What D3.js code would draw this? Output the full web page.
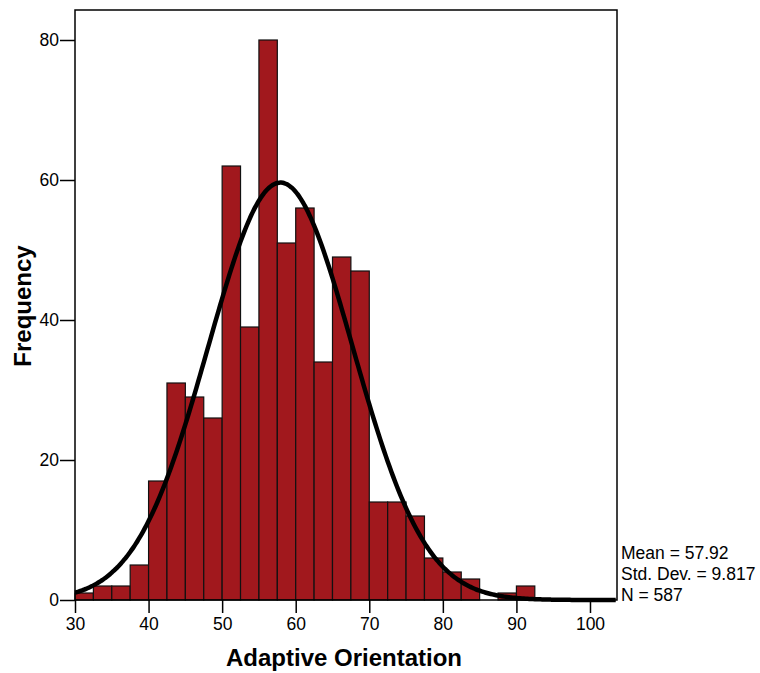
<!DOCTYPE html>
<html>
<head>
<meta charset="utf-8">
<script src="https://cdn.jsdelivr.net/npm/d3@7"></script>
<style>
  html, body { margin: 0; padding: 0; background: #fff; }
  svg { display: block; }
  text { font-family: "Liberation Sans", Arial, sans-serif; fill: #000; }
</style>
</head>
<body>
<svg id="chart" width="760" height="673"></svg>
<script>
// ---- data ----
const binStarts = [30, 32.5, 35, 37.5, 40, 42.5, 45, 47.5, 50, 52.5, 55, 57.5, 60, 62.5, 65, 67.5, 70, 72.5, 75, 77.5, 80, 82.5, 85, 87.5, 90];
const binWidth = 2.5;
const frequencies = [1, 2, 2, 5, 17, 31, 29, 26, 62, 39, 80, 51, 56, 34, 49, 47, 14, 14, 12, 6, 4, 3, 0, 1, 2];
const xTicks = [30, 40, 50, 60, 70, 80, 90, 100];
const yTicks = [0, 20, 40, 60, 80];
const statsLabels = ["Mean = 57.92", "Std. Dev. = 9.817", "N = 587"];
const mean = 57.92, sd = 9.817, n = 587;

// ---- layout ----
const svg = d3.select("#chart");
const pLeft = 75, pRight = 617, pTop = 10, pBottom = 600;
const x = d3.scaleLinear().domain([30, 30 + (pRight - pLeft) / 7.357]).range([pLeft, pRight]);
const y = d3.scaleLinear().domain([0, 80]).range([pBottom, 40]);

// bars
svg.append("g").selectAll("rect")
  .data(binStarts.map((s, i) => ({ s, v: frequencies[i] })).filter(d => d.v > 0))
  .join("rect")
  .attr("x", d => x(d.s))
  .attr("y", d => y(d.v))
  .attr("width", d => x(d.s + binWidth) - x(d.s))
  .attr("height", d => y(0) - y(d.v))
  .attr("fill", "#A1181D")
  .attr("stroke", "#111")
  .attr("stroke-width", 1.2);

// normal curve (fitted from the stated mean, sd and N)
const xMax = x.domain()[1];
const curvePts = d3.range(30, xMax + 0.001, 0.25).map(v => {
  const z = (v - mean) / sd;
  return [v, n * binWidth / (sd * Math.sqrt(2 * Math.PI)) * Math.exp(-0.5 * z * z)];
});
svg.append("path")
  .datum(curvePts)
  .attr("fill", "none")
  .attr("stroke", "#000")
  .attr("stroke-width", 4.5)
  .attr("stroke-linejoin", "round")
  .attr("d", d3.line().x(d => x(d[0])).y(d => y(d[1])).curve(d3.curveBasis));

// frame
svg.append("rect")
  .attr("x", pLeft).attr("y", pTop)
  .attr("width", pRight - pLeft).attr("height", pBottom - pTop)
  .attr("fill", "none").attr("stroke", "#000").attr("stroke-width", 1.5);

// axes
const xAxis = svg.append("g")
  .attr("transform", `translate(0,${pBottom})`)
  .call(d3.axisBottom(x).tickValues(xTicks).tickSize(13).tickPadding(5).tickFormat(d3.format("d")));
const yAxis = svg.append("g")
  .attr("transform", `translate(${pLeft},0)`)
  .call(d3.axisLeft(y).tickValues(yTicks).tickSize(15).tickPadding(1).tickFormat(d3.format("d")));
[xAxis, yAxis].forEach(g => {
  g.select(".domain").remove();
  g.selectAll(".tick line").attr("stroke", "#000").attr("stroke-width", 1.5);
  g.selectAll(".tick text").attr("font-size", 17.5).attr("font-family", "Liberation Sans, Arial, sans-serif").attr("fill", "#000");
});

// axis titles
svg.append("text")
  .attr("x", 344).attr("y", 666)
  .attr("text-anchor", "middle")
  .attr("font-size", 24).attr("font-weight", "bold")
  .text("Adaptive Orientation");
svg.append("text")
  .attr("transform", "translate(31,306) rotate(-90)")
  .attr("text-anchor", "middle")
  .attr("font-size", 24).attr("font-weight", "bold")
  .text("Frequency");

// stats
svg.append("g").selectAll("text")
  .data(statsLabels)
  .join("text")
  .attr("x", 621)
  .attr("y", (d, i) => 559 + i * 20.8)
  .attr("font-size", 17.5)
  .text(d => d);
</script>
</body>
</html>
